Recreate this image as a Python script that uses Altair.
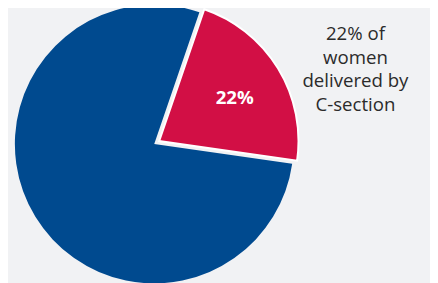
import altair as alt
import pandas as pd
import math

categories = ["C-section", "Other"]
values = [22, 78]
colors = ["#d20f45", "#004a8f"]
label_text = "22%"
caption_lines = ["22% of", "women", "delivered by", "C-section"]

W, H = 430, 275
cx, cy = 149, 136
R = 142
start = 0.33  # radians, rotation of the pie

df = pd.DataFrame({"cat": categories, "val": values})
df["end"] = df["val"].cumsum()
df["begin"] = df["end"] - df["val"]

theta_scale = alt.Scale(domain=[0, 100], range=[start, start + 2 * math.pi])
color_scale = alt.Scale(domain=categories, range=colors)

blue = alt.Chart(df).transform_filter(alt.datum.cat == "Other").mark_arc(
    radius=R, stroke=None
).encode(
    theta=alt.Theta("begin:Q", scale=theta_scale),
    theta2="end:Q",
    color=alt.Color("cat:N", scale=color_scale, legend=None),
    x=alt.value(cx), y=alt.value(cy),
)

red = alt.Chart(df).transform_filter(alt.datum.cat == "C-section").mark_arc(
    radius=R, xOffset=5, yOffset=-3, stroke="white", strokeWidth=2
).encode(
    theta=alt.Theta("begin:Q", scale=theta_scale),
    theta2="end:Q",
    color=alt.Color("cat:N", scale=color_scale, legend=None),
    x=alt.value(cx), y=alt.value(cy),
)

pct = alt.Chart(pd.DataFrame({"t": [label_text]})).mark_text(
    color="white", fontSize=19, fontWeight="bold", font="Open Sans",
    align="center", baseline="middle"
).encode(text="t:N", x=alt.value(231), y=alt.value(89))

caption = alt.Chart(pd.DataFrame({"t": ["\n".join(caption_lines)]})).mark_text(
    color="#2b2b2b", fontSize=19, font="Open Sans", align="center",
    baseline="middle", lineBreak="\n", lineHeight=24
).encode(
    text="t:N",
    x=alt.value(354),
    y=alt.value(24),
)

chart = alt.layer(blue, red, pct, caption).properties(
    width=W, height=H, background="#f1f2f4", padding=0,
    autosize=alt.AutoSizeParams(type="none")
).configure_view(stroke=None, fill="#f1f2f4")

chart.save("out.html", embed_options={"renderer": "svg", "actions": False})
